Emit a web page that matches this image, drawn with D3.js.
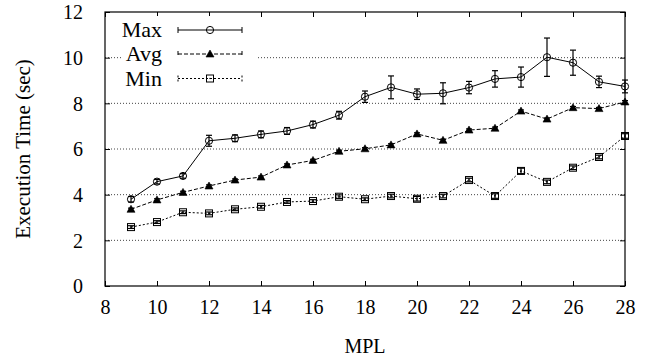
<!DOCTYPE html>
<html>
<head>
<meta charset="utf-8">
<script src="https://cdn.jsdelivr.net/npm/d3@7"></script>
<style>
  body { margin: 0; background: #fff; }
  svg text { font-family: "Liberation Serif", "Times New Roman", serif; font-size: 20px; fill: #000; }
</style>
</head>
<body>
<svg width="658" height="360"></svg>
<script>
// data
var mpl = [9, 10, 11, 12, 13, 14, 15, 16, 17, 18, 19, 20, 21, 22, 23, 24, 25, 26, 27, 28];
var maxVals = [3.80, 4.57, 4.82, 6.36, 6.47, 6.64, 6.79, 7.07, 7.48, 8.29, 8.70, 8.40, 8.44, 8.69, 9.07, 9.15, 10.02, 9.78, 8.94, 8.74];
var maxErr  = [0.12, 0.10, 0.10, 0.24, 0.15, 0.15, 0.15, 0.15, 0.17, 0.25, 0.50, 0.23, 0.46, 0.27, 0.36, 0.44, 0.84, 0.55, 0.25, 0.28];
var avgVals = [3.36, 3.77, 4.10, 4.38, 4.64, 4.77, 5.30, 5.50, 5.90, 6.01, 6.18, 6.66, 6.38, 6.83, 6.91, 7.66, 7.31, 7.81, 7.77, 8.06];
var avgErr  = [0.05, 0.05, 0.05, 0.05, 0.05, 0.05, 0.05, 0.05, 0.05, 0.05, 0.05, 0.05, 0.05, 0.05, 0.05, 0.05, 0.05, 0.05, 0.05, 0.06];
var minVals = [2.58, 2.80, 3.23, 3.18, 3.36, 3.47, 3.68, 3.72, 3.91, 3.80, 3.94, 3.82, 3.94, 4.64, 3.94, 5.04, 4.56, 5.18, 5.65, 6.57];
var minErr  = [0.06, 0.06, 0.06, 0.06, 0.06, 0.06, 0.06, 0.06, 0.08, 0.06, 0.08, 0.10, 0.08, 0.08, 0.10, 0.12, 0.08, 0.08, 0.08, 0.10];
var xTicks = [8, 10, 12, 14, 16, 18, 20, 22, 24, 26, 28];
var yTicks = [0, 2, 4, 6, 8, 10, 12];
var seriesNames = ["Max", "Avg", "Min"];

var svg = d3.select("svg");
var plotLeft = 105, plotRight = 625, plotTop = 12, plotBottom = 286;

var xScale = d3.scaleLinear().domain([8, 28]).range([plotLeft, plotRight]);
var yScale = d3.scaleLinear().domain([0, 12]).range([plotBottom, plotTop]);

// grid lines
svg.append("g")
  .selectAll("line")
  .data(yTicks.filter(function(d){ return d > 0 && d < 12; }))
  .enter().append("line")
  .attr("x1", plotLeft).attr("x2", plotRight)
  .attr("y1", function(d){ return yScale(d); })
  .attr("y2", function(d){ return yScale(d); })
  .attr("stroke", "#444")
  .attr("stroke-width", 1)
  .attr("stroke-dasharray", "1,2");

// axes, ticks pointing inward on all four sides
var axB = svg.append("g").attr("transform", "translate(0," + plotBottom + ")")
  .call(d3.axisBottom(xScale).tickValues(xTicks).tickSizeInner(-5).tickSizeOuter(0).tickPadding(14));
var axT = svg.append("g").attr("transform", "translate(0," + plotTop + ")")
  .call(d3.axisTop(xScale).tickValues(xTicks).tickSizeInner(-5).tickSizeOuter(0).tickFormat(""));
var axL = svg.append("g").attr("transform", "translate(" + plotLeft + ",0)")
  .call(d3.axisLeft(yScale).tickValues(yTicks).tickSizeInner(-5).tickSizeOuter(0).tickPadding(22));
var axR = svg.append("g").attr("transform", "translate(" + plotRight + ",0)")
  .call(d3.axisRight(yScale).tickValues(yTicks).tickSizeInner(-5).tickSizeOuter(0).tickFormat(""));

[axB, axT, axL, axR].forEach(function(a){
  a.select(".domain").remove();
  a.selectAll("line").attr("stroke", "#000");
  a.selectAll("text").attr("font-family", null).attr("font-size", null);
});
axB.selectAll("text").attr("dy", "0.71em");
axL.selectAll("text").attr("dy", "0.34em");

// legend background (hides grid behind key)
svg.append("rect")
  .attr("x", 122).attr("y", 16)
  .attr("width", 134).attr("height", 76)
  .attr("fill", "#fff");

// frame
svg.append("rect")
  .attr("x", plotLeft).attr("y", plotTop)
  .attr("width", plotRight - plotLeft).attr("height", plotBottom - plotTop)
  .attr("fill", "none").attr("stroke", "#000").attr("stroke-width", 1.2);

var series = [
  { name: seriesNames[0], vals: maxVals, err: maxErr, dash: null,  shape: "circle" },
  { name: seriesNames[1], vals: avgVals, err: avgErr, dash: "4,2", shape: "triangle" },
  { name: seriesNames[2], vals: minVals, err: minErr, dash: "2,2", shape: "square" }
];

function drawMarker(g, shape, x, y) {
  if (shape === "circle") {
    g.append("circle").attr("cx", x).attr("cy", y).attr("r", 3.6)
      .attr("fill", "none").attr("stroke", "#000").attr("stroke-width", 1);
  } else if (shape === "triangle") {
    g.append("path")
      .attr("d", "M" + x + "," + (y - 4) + "L" + (x + 4) + "," + (y + 3) + "L" + (x - 4) + "," + (y + 3) + "Z")
      .attr("fill", "#000").attr("stroke", "#000").attr("stroke-width", 0.6);
  } else {
    g.append("rect").attr("x", x - 3.5).attr("y", y - 3.5).attr("width", 7).attr("height", 7)
      .attr("fill", "none").attr("stroke", "#000").attr("stroke-width", 1);
    g.append("rect").attr("x", x - 0.6).attr("y", y - 0.6).attr("width", 1.2).attr("height", 1.2)
      .attr("fill", "#000");
  }
}

var line = d3.line()
  .x(function(d){ return xScale(d.x); })
  .y(function(d){ return yScale(d.y); });

series.forEach(function(s){
  var pts = mpl.map(function(m, i){ return { x: m, y: s.vals[i], e: s.err[i] }; });
  var g = svg.append("g");

  g.append("path")
    .datum(pts)
    .attr("d", line)
    .attr("fill", "none")
    .attr("stroke", "#000")
    .attr("stroke-width", 1)
    .attr("stroke-dasharray", s.dash);

  pts.forEach(function(p){
    var x = xScale(p.x), y1 = yScale(p.y - p.e), y2 = yScale(p.y + p.e);
    g.append("line").attr("x1", x).attr("x2", x).attr("y1", y1).attr("y2", y2)
      .attr("stroke", "#000").attr("stroke-width", 1.2);
    [y1, y2].forEach(function(yy){
      g.append("line").attr("x1", x - 3).attr("x2", x + 3).attr("y1", yy).attr("y2", yy)
        .attr("stroke", "#000").attr("stroke-width", 1.2);
    });
    drawMarker(g, s.shape, x, yScale(p.y));
  });
});

// legend
var legendY = [30, 54, 78.5];
series.forEach(function(s, i){
  var ly = legendY[i];
  var g = svg.append("g");
  g.append("text")
    .attr("x", 162).attr("y", ly).attr("dy", "0.33em")
    .attr("text-anchor", "end")
    .style("font-size", "22px")
    .text(s.name);
  g.append("line")
    .attr("x1", 178).attr("x2", 242).attr("y1", ly).attr("y2", ly)
    .attr("stroke", "#000").attr("stroke-width", 1)
    .attr("stroke-dasharray", s.dash);
  [178, 242].forEach(function(xx){
    g.append("line").attr("x1", xx).attr("x2", xx).attr("y1", ly - 3).attr("y2", ly + 3)
      .attr("stroke", "#000").attr("stroke-width", 1)
      .attr("stroke-dasharray", s.dash);
  });
  drawMarker(g, s.shape, 210, ly);
});

// axis titles
svg.append("text")
  .attr("x", (plotLeft + plotRight) / 2).attr("y", 353)
  .attr("text-anchor", "middle")
  .text("MPL");

svg.append("text")
  .attr("transform", "translate(30," + ((plotTop + plotBottom) / 2) + ") rotate(-90)")
  .attr("text-anchor", "middle")
  .style("font-size", "21px")
  .text("Execution Time (sec)");
</script>
</body>
</html>
